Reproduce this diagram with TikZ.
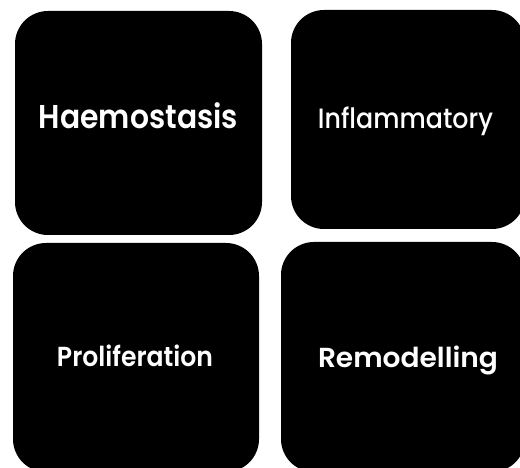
\documentclass[tikz,border=0pt]{standalone}
\usepackage{fontspec}
\usepackage{graphicx}
\setmainfont{Poppins}
\newfontfamily\popsemi{Poppins SemiBold}
\newfontfamily\popmed{Poppins Medium}
\begin{document}
\begin{tikzpicture}[x=1pt,y=-1pt,
  phase/.style={fill=black,draw=none,rounded corners=33pt,inner sep=0pt},
  lbl/.style={text=white,anchor=base,inner sep=0pt}]
\useasboundingbox (0,0) rectangle (520,468);
\clip (0,0) rectangle (520,468);
\fill[white] (0,0) rectangle (520,468);
\node[phase,minimum width=247pt,minimum height=224pt] (hbox) at (138.5,123) {};
\node[phase,minimum width=234pt,minimum height=219pt] (ibox) at (408,119.5) {};
\node[phase,minimum width=246pt,minimum height=229pt] (pbox) at (136,357.5) {};
\node[phase,minimum width=244pt,minimum height=230pt] (rbox) at (403,357) {};
\node[lbl,font=\fontsize{33}{33}\popsemi] (h) at (138.5,129) {\resizebox{199pt}{\height}{Haemostasis}};
\node[lbl,font=\fontsize{28}{28}\popmed] (i) at (405.5,129) {\resizebox{175pt}{\height}{Inflammatory}};
\node[lbl,font=\fontsize{27.5}{27.5}\popsemi] (p) at (135,366) {\resizebox{156pt}{\height}{Proliferation}};
\node[lbl,font=\fontsize{27.5}{27.5}\popsemi] (r) at (408,367) {\resizebox{180pt}{\height}{Remodelling}};
\end{tikzpicture}
\end{document}
